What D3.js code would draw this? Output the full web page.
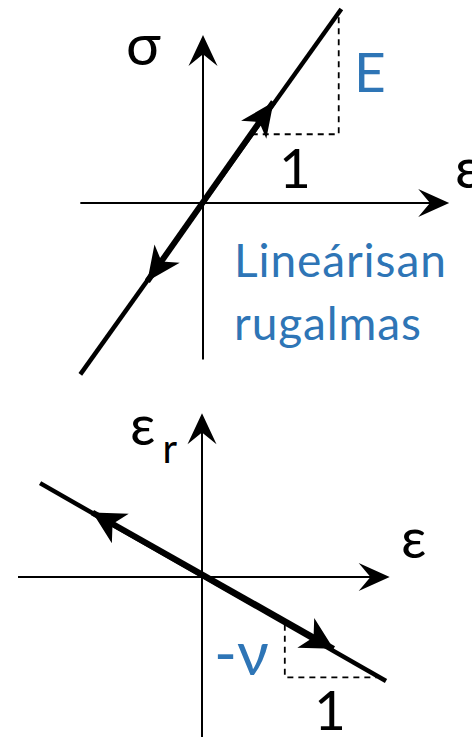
<!DOCTYPE html>
<html>
<head>
<meta charset="utf-8">
<script src="https://cdn.jsdelivr.net/npm/d3@7"></script>
<style>
  html, body { margin: 0; padding: 0; background: #fff; }
  svg { display: block; }
  text { font-family: Lato, "Noto Sans", "DejaVu Sans", sans-serif; }
</style>
</head>
<body>
<svg id="chart" width="472" height="737"></svg>
<script>
// ---- Upper panel: σ–ε, linear elastic (σ = E·ε) ----
const sigAxisEps   = [-1.41, 2.83];   // extent of the ε axis
const sigAxisSig   = [-1.80, 1.93];   // extent of the σ axis
const sigLineEps   = [-1.41, 1.59];   // loading line, ε ends
const sigLineSig   = [-1.97, 2.23];   // loading line, σ ends
const sigArrowEps  = [0.81, -0.64];   // arrow tips on the line (ε)
const sigArrowSig  = [1.16, -0.90];   // arrow tips on the line (σ)
const sigArrowDir  = [1, -1];         // +1 loading, -1 unloading
const sigTriEps    = [0.56, 1.56, 1.56]; // slope triangle corners (ε)
const sigTriSig    = [0.79, 0.79, 2.19]; // slope triangle corners (σ)

// ---- Lower panel: ε_r–ε, transverse strain (ε_r = −ν·ε) ----
const latAxisEps   = [-2.00, 2.04];
const latAxisEr    = [-1.74, 1.78];
const latLineEps   = [-1.76, 2.00];
const latLineEr    = [1.02, -1.13];
const latArrowEps  = [-1.19, 1.43];
const latArrowEr   = [0.70, -0.78];
const latArrowDir  = [-1, 1];
const latTriEps    = [0.90, 0.90, 1.90];
const latTriEr     = [-0.52, -1.09, -1.09];

const ink = "#000";
const blue = "#2E75B6";

const svg = d3.select("#chart");

// stealth-style arrowhead with a notched back, tip at (0,0) pointing +x
function headPath(len, half, notch) {
  return `M0,0 L${-len},${-half} L${-len * notch},0 L${-len},${half} Z`;
}

function drawHead(g, x, y, angleDeg, len, half, notch) {
  g.append("path")
    .attr("d", headPath(len, half, notch))
    .attr("transform", `translate(${x},${y}) rotate(${angleDeg})`)
    .attr("fill", ink);
}

function panel(cfg) {
  const x = d3.scaleLinear().domain([0, 1]).range([cfg.ox, cfg.ox + cfg.unit]);
  const y = d3.scaleLinear().domain([0, 1]).range([cfg.oy, cfg.oy - cfg.unit]);
  const g = svg.append("g");

  // axes with arrowheads
  g.append("line")
    .attr("x1", x(cfg.axisX[0])).attr("x2", x(cfg.axisX[1]) - 10)
    .attr("y1", y(0)).attr("y2", y(0))
    .attr("stroke", ink).attr("stroke-width", 2);
  g.append("line")
    .attr("x1", x(0)).attr("x2", x(0))
    .attr("y1", y(cfg.axisY[0])).attr("y2", y(cfg.axisY[1]) + 10)
    .attr("stroke", ink).attr("stroke-width", 2);
  drawHead(g, x(cfg.axisX[1]), y(0), 0, 31, 14, 0.62);
  drawHead(g, x(0), y(cfg.axisY[1]), -90, 31, 14.5, 0.62);

  // dashed slope triangle
  const tri = cfg.triX.map((v, i) => [x(v), y(cfg.triY[i])]);
  g.append("path")
    .attr("d", d3.line()(tri))
    .attr("fill", "none")
    .attr("stroke", ink)
    .attr("stroke-width", 1.8)
    .attr("stroke-dasharray", "6,5");

  // the characteristic line
  const p0 = [x(cfg.lineX[0]), y(cfg.lineY[0])];
  const p1 = [x(cfg.lineX[1]), y(cfg.lineY[1])];
  g.append("line")
    .attr("x1", p0[0]).attr("y1", p0[1]).attr("x2", p1[0]).attr("y2", p1[1])
    .attr("stroke", ink).attr("stroke-width", 4.5);

  // heavier stretch between the two arrows
  const a0 = [x(cfg.arrX[0]), y(cfg.arrY[0])];
  const a1 = [x(cfg.arrX[1]), y(cfg.arrY[1])];
  g.append("line")
    .attr("x1", a0[0]).attr("y1", a0[1]).attr("x2", a1[0]).attr("y2", a1[1])
    .attr("stroke", ink).attr("stroke-width", 6);

  // direction arrows on the line
  const ang = Math.atan2(p1[1] - p0[1], p1[0] - p0[0]) * 180 / Math.PI;
  cfg.arrX.forEach((v, i) => {
    const a = cfg.arrDir[i] > 0 ? ang : ang + 180;
    drawHead(g, x(v), y(cfg.arrY[i]), a, cfg.headLen, cfg.headHalf, 0.72);
  });

  return g;
}

// upper panel
const upper = panel({
  ox: 203, oy: 203, unit: 87,
  axisX: sigAxisEps, axisY: sigAxisSig,
  lineX: sigLineEps, lineY: sigLineSig,
  arrX: sigArrowEps, arrY: sigArrowSig, arrDir: sigArrowDir,
  triX: sigTriEps, triY: sigTriSig,
  headLen: 34, headHalf: 15.5
});

upper.append("text").attr("x", 126).attr("y", 65)
  .attr("font-size", 58).attr("fill", ink).text("σ");
upper.append("text").attr("x", 455).attr("y", 188)
  .attr("font-size", 56).attr("fill", ink).text("ε");
upper.append("text").attr("x", 354).attr("y", 92)
  .attr("font-size", 55).attr("fill", blue).text("E");
upper.append("text").attr("x", 279).attr("y", 188)
  .attr("font-size", 55).attr("fill", ink).text("1");
upper.append("text").attr("x", 234).attr("y", 277)
  .attr("font-size", 46).attr("letter-spacing", 0.9).attr("fill", blue).text("Lineárisan");
upper.append("text").attr("x", 234).attr("y", 340)
  .attr("font-size", 46).attr("letter-spacing", 0.9).attr("fill", blue).text("rugalmas");

// lower panel
const lower = panel({
  ox: 202, oy: 577, unit: 92,
  axisX: latAxisEps, axisY: latAxisEr,
  lineX: latLineEps, lineY: latLineEr,
  arrX: latArrowEps, arrY: latArrowEr, arrDir: latArrowDir,
  triX: latTriEps, triY: latTriEr,
  headLen: 32, headHalf: 17
});

const er = lower.append("text").attr("x", 130).attr("y", 445)
  .attr("font-size", 56).attr("fill", ink);
er.append("tspan").text("ε");
er.append("tspan").attr("font-size", 40).attr("dx", 7).attr("dy", 18).text("r");
lower.append("text").attr("x", 401).attr("y", 558)
  .attr("font-size", 56).attr("fill", ink).text("ε");
lower.append("text").attr("x", 214).attr("y", 675)
  .attr("font-size", 62).attr("fill", blue).text("-ν");
lower.append("text").attr("x", 314).attr("y", 730)
  .attr("font-size", 55).attr("fill", ink).text("1");
</script>
</body>
</html>
